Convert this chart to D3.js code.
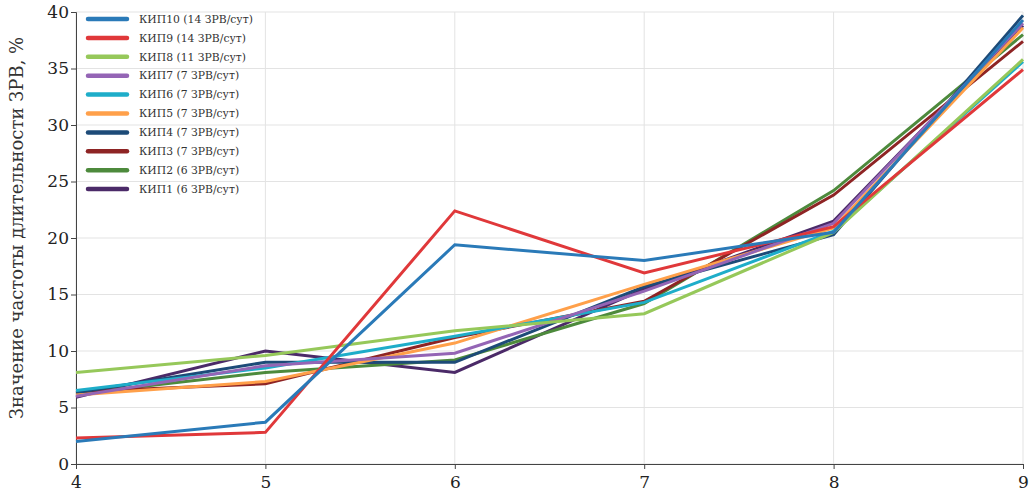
<!DOCTYPE html>
<meta charset="utf-8">
<html>
<style>
  body { margin: 0; background: #fff; }
  .grid line { stroke: #e3e3e3; stroke-width: 1px; }
  .axis path, .axis line { stroke: #444; }
  .axis text { font-family: "DejaVu Serif", serif; font-size: 17px; fill: #222; }
  .series path { fill: none; stroke-width: 3px; stroke-linejoin: miter; }
  .legend text { font-family: "DejaVu Serif", serif; font-size: 10.8px; fill: #333; }
  .ylabel { font-family: "DejaVu Serif", serif; font-size: 18px; fill: #333; }
</style>
<body>
<svg width="1034" height="500"></svg>
<script src="https://d3js.org/d3.v7.min.js"></script>
<script>

// x values shown on the axis
var xValues = [4, 5, 6, 7, 8, 9];
var yTicks = [0, 5, 10, 15, 20, 25, 30, 35, 40];

var names = [
  "КИП10 (14 ЗРВ/сут)", "КИП9 (14 ЗРВ/сут)", "КИП8 (11 ЗРВ/сут)",
  "КИП7 (7 ЗРВ/сут)", "КИП6 (7 ЗРВ/сут)", "КИП5 (7 ЗРВ/сут)",
  "КИП4 (7 ЗРВ/сут)", "КИП3 (7 ЗРВ/сут)", "КИП2 (6 ЗРВ/сут)",
  "КИП1 (6 ЗРВ/сут)"
];
var colors = [
  "#2a7ab8", "#e0383a", "#96c85a", "#9465b5", "#1eadc9",
  "#ffa04a", "#1d4b78", "#8e2424", "#4d8a3c", "#4b2a68"
];

var kip10 = [2.0, 3.7, 19.4, 18.0, 20.5, 39.3];
var kip9  = [2.3, 2.8, 22.4, 16.9, 21.0, 34.9];
var kip8  = [8.1, 9.6, 11.8, 13.3, 20.5, 35.8];
var kip7  = [6.0, 8.7, 9.8, 15.3, 21.3, 39.0];
var kip6  = [6.5, 8.5, 11.3, 14.3, 20.6, 35.6];
var kip5  = [6.1, 7.3, 10.7, 15.9, 20.9, 38.6];
var kip4  = [6.3, 9.0, 9.0, 15.7, 20.3, 39.7];
var kip3  = [6.4, 7.1, 11.2, 14.4, 23.8, 37.4];
var kip2  = [6.2, 8.1, 9.2, 14.2, 24.2, 38.0];
var kip1  = [5.9, 10.0, 8.1, 15.5, 21.5, 38.8];

var series = [kip10, kip9, kip8, kip7, kip6, kip5, kip4, kip3, kip2, kip1];

var svg = d3.select("svg"),
    width = +svg.attr("width"),
    height = +svg.attr("height");

var margin = {top: 12, right: 11, bottom: 36, left: 76};

var x = d3.scaleLinear().domain([4, 9]).range([margin.left, width - margin.right]);
var y = d3.scaleLinear().domain([0, 40]).range([height - margin.bottom, margin.top]);

// grid
var grid = svg.append("g").attr("class", "grid");
grid.selectAll(".h").data(yTicks).enter().append("line")
    .attr("x1", x(4)).attr("x2", x(9))
    .attr("y1", function(d) { return y(d); })
    .attr("y2", function(d) { return y(d); });
grid.selectAll(".v").data(xValues).enter().append("line")
    .attr("x1", function(d) { return x(d); })
    .attr("x2", function(d) { return x(d); })
    .attr("y1", y(0)).attr("y2", y(40));

// axes
svg.append("g")
    .attr("class", "axis")
    .attr("transform", "translate(0," + y(0) + ")")
    .call(d3.axisBottom(x).tickValues(xValues).tickFormat(d3.format("d")).tickSizeOuter(0).tickSize(5).tickPadding(7));

svg.append("g")
    .attr("class", "axis")
    .attr("transform", "translate(" + x(4) + ",0)")
    .call(d3.axisLeft(y).tickValues(yTicks).tickSizeOuter(0).tickSize(5).tickPadding(2));

svg.append("text")
    .attr("class", "ylabel")
    .attr("transform", "translate(23," + (y(20) - 10) + ") rotate(-90)")
    .attr("text-anchor", "middle")
    .text("Значение частоты длительности ЗРВ, %");

// lines
var line = d3.line()
    .x(function(d, i) { return x(xValues[i]); })
    .y(function(d) { return y(d); });

var order = d3.range(series.length).reverse();
svg.append("g").attr("class", "series")
  .selectAll("path")
  .data(order)
  .enter().append("path")
    .attr("stroke", function(i) { return colors[i]; })
    .attr("d", function(i) { return line(series[i]); });

// legend
var legend = svg.append("g").attr("class", "legend")
    .attr("transform", "translate(88,19)");

var item = legend.selectAll("g").data(names).enter().append("g")
    .attr("transform", function(d, i) { return "translate(0," + (i * 18.9) + ")"; });

item.append("line")
    .attr("x1", 0).attr("x2", 39)
    .attr("stroke", function(d, i) { return colors[i]; })
    .attr("stroke-width", 4.5)
    .attr("stroke-linecap", "round");

item.append("text")
    .attr("x", 51)
    .attr("dy", "0.35em")
    .text(function(d) { return d; });

</script>
</body>
</html>
